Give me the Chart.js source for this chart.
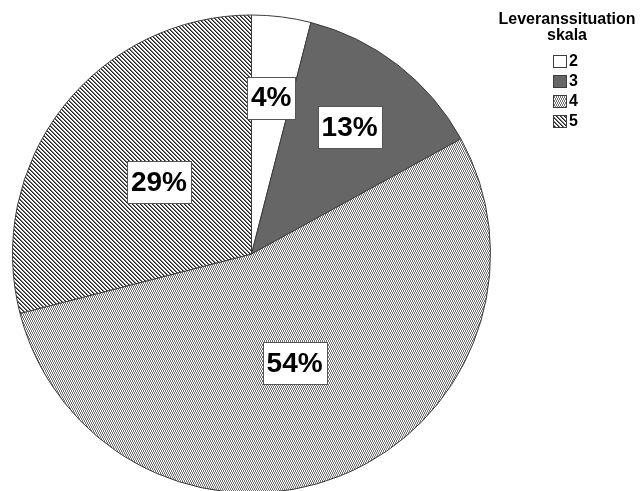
<!DOCTYPE html>
<html>
<head>
<meta charset="utf-8">
<script src="https://cdn.jsdelivr.net/npm/chart.js@4/dist/chart.umd.min.js"></script>
<style>
  html, body { margin: 0; padding: 0; background: #fff; }
  canvas { display: block; }
</style>
</head>
<body>
<canvas id="pie" width="640" height="491"></canvas>
<script>
const categories = ['2', '3', '4', '5'];
const percentages = [4, 13, 54, 29];
const legendTitle = ['Leveranssituation', 'skala'];

const FONT = '"Liberation Sans", Arial, sans-serif';
const canvas = document.getElementById('pie');
const ctx0 = canvas.getContext('2d');

// small tiles for the SPSS-like hatch fills
function makePattern(w, h, paint) {
  const c = document.createElement('canvas');
  c.width = w; c.height = h;
  const g = c.getContext('2d');
  g.fillStyle = '#fff';
  g.fillRect(0, 0, w, h);
  paint(g);
  return ctx0.createPattern(c, 'repeat');
}

const dots = makePattern(2, 4, g => {
  g.fillStyle = '#707070';
  g.fillRect(0, 0, 1, 2);
  g.fillRect(1, 2, 1, 2);
});

const stripes = makePattern(4, 4, g => {
  for (let i = 0; i < 4; i++) {
    g.fillStyle = '#222';
    g.fillRect(i, i, 1, 1);
    g.fillStyle = '#777';
    g.fillRect((i + 1) % 4, i, 1, 1);
  }
});

const fills = ['#ffffff', '#666666', dots, stripes];

// percent boxes inside the slices
const pctLabels = {
  id: 'pctLabels',
  afterDatasetsDraw(chart, args, opts) {
    const ctx = chart.ctx;
    const meta = chart.getDatasetMeta(0);
    const values = chart.data.datasets[0].data;
    ctx.save();
    ctx.font = 'bold 28px ' + FONT;
    ctx.textAlign = 'center';
    ctx.textBaseline = 'middle';
    meta.data.forEach((arc, i) => {
      const p = arc.getProps(['x', 'y', 'startAngle', 'endAngle', 'outerRadius'], true);
      const mid = (p.startAngle + p.endAngle) / 2;
      const r = p.outerRadius * opts.radial[i];
      const cx = p.x + Math.cos(mid) * r;
      const cy = p.y + Math.sin(mid) * r;
      const text = values[i] + '%';
      const w = Math.round(ctx.measureText(text).width + 8);
      const h = 42;
      const bx = Math.round(cx - w / 2) + 0.5;
      const by = Math.round(cy - h / 2) + 0.5;
      ctx.fillStyle = '#fff';
      ctx.fillRect(bx, by, w, h);
      ctx.strokeStyle = '#555';
      ctx.lineWidth = 1;
      ctx.strokeRect(bx, by, w, h);
      ctx.fillStyle = '#000';
      ctx.fillText(text, cx, cy + 1);
    });
    ctx.restore();
  }
};

// centred legend block, SPSS style (title over a narrow column of boxes)
const sideLegend = {
  id: 'sideLegend',
  afterDraw(chart, args, opts) {
    const ctx = chart.ctx;
    const items = Chart.overrides.pie.plugins.legend.labels.generateLabels(chart);
    ctx.save();
    ctx.fillStyle = '#000';
    ctx.font = 'bold 16px ' + FONT;
    ctx.textAlign = 'center';
    ctx.textBaseline = 'middle';
    opts.title.forEach((line, i) => ctx.fillText(line, opts.x, opts.titleY + i * 16));
    ctx.textAlign = 'left';
    items.forEach((it, i) => {
      const y = opts.itemsY + i * opts.step;
      ctx.fillStyle = it.fillStyle;
      ctx.fillRect(opts.boxX, y, 14, 13);
      ctx.strokeStyle = it.strokeStyle;
      ctx.lineWidth = 1;
      ctx.strokeRect(opts.boxX + 0.5, y + 0.5, 13, 12);
      ctx.fillStyle = '#000';
      ctx.fillText(it.text, opts.boxX + 16, y + 7);
    });
    ctx.restore();
  }
};

new Chart(canvas, {
  type: 'pie',
  data: {
    labels: categories,
    datasets: [{
      data: percentages,
      backgroundColor: fills,
      borderColor: '#3c3c3c',
      borderWidth: 1,
      radius: 239
    }]
  },
  options: {
    responsive: false,
    animation: false,
    layout: { padding: { left: 0, right: 137, top: 17, bottom: 0 } },
    plugins: {
      legend: { display: false },
      tooltip: { enabled: false },
      pctLabels: { radial: [0.66, 0.67, 0.49, 0.49] },
      sideLegend: { title: legendTitle, x: 567, titleY: 20, itemsY: 55, step: 20, boxX: 553 }
    }
  },
  plugins: [pctLabels, sideLegend]
});
</script>
</body>
</html>
